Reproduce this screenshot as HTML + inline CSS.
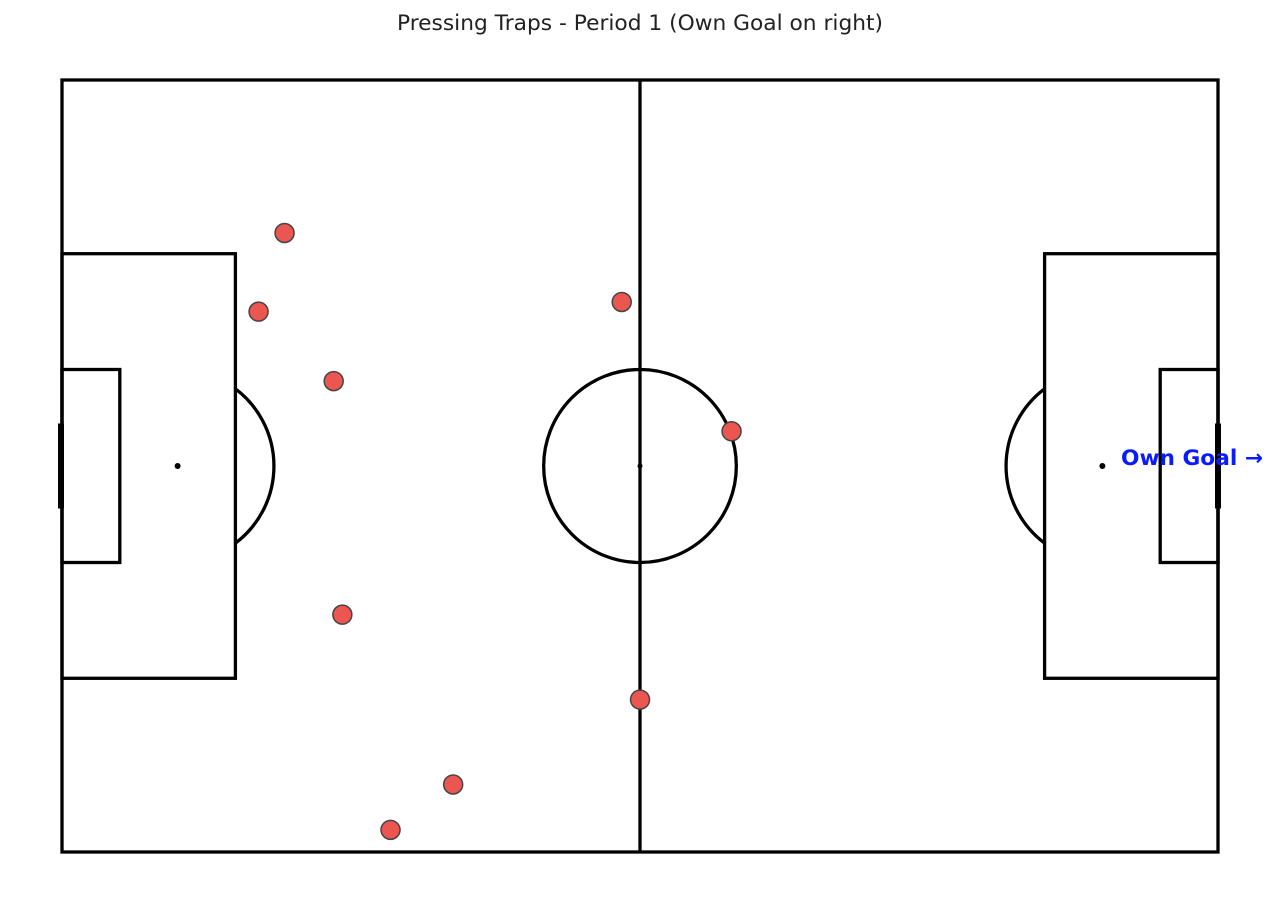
<!DOCTYPE html>
<html><head><meta charset="utf-8"><style>
html,body{margin:0;padding:0;background:#fff;}
svg{display:block;}
</style></head><body>
<svg id="chart" width="1284" height="902" xmlns="http://www.w3.org/2000/svg">
<text x="640" y="30" text-anchor="middle" font-family="DejaVu Sans, sans-serif" font-size="21.7" fill="#222" textLength="486" lengthAdjust="spacingAndGlyphs">Pressing Traps - Period 1 (Own Goal on right)</text>
<g id="pitch" fill="none" stroke="#000" stroke-width="3.3"></g>
<g id="dots"></g>
<text x="1121" y="465" font-family="DejaVu Sans, sans-serif" font-weight="bold" font-size="21.5" fill="#0a1cff" textLength="142" lengthAdjust="spacingAndGlyphs">Own Goal →</text>
</svg>
<script>
const trapX = [23.0, 20.3, 28.1, 58.0, 69.4, 29.0, 59.9, 40.5, 34.0];
const trapY = [15.75, 23.9, 31.1, 22.9, 36.3, 55.3, 64.1, 72.9, 77.6];

const X0 = 62, X1 = 1218, Y0 = 80, Y1 = 852;
const sx = v => X0 + v / 120 * (X1 - X0);
const sy = v => Y0 + v / 80 * (Y1 - Y0);
const NS = 'http://www.w3.org/2000/svg';
const pitch = document.getElementById('pitch');
function add(parent, tag, attrs, name) {
  const el = document.createElementNS(NS, tag);
  for (const k in attrs) el.setAttribute(k, attrs[k]);
  
  
  parent.appendChild(el);
  return el;
}
function rect(x1, y1, x2, y2, name) {
  add(pitch, 'rect', {x: sx(x1), y: sy(y1), width: sx(x2) - sx(x1), height: sy(y2) - sy(y1)}, name);
}
rect(0, 0, 120, 80, 'pitch-outline');
add(pitch, 'line', {x1: sx(60), y1: sy(0), x2: sx(60), y2: sy(80)}, 'halfway-line');
rect(0, 18, 18, 62, 'left-penalty-box');
rect(102, 18, 120, 62, 'right-penalty-box');
rect(0, 30, 6, 50, 'left-six-yard-box');
rect(114, 30, 120, 50, 'right-six-yard-box');
const r = sx(10) - sx(0), ry = sy(10) - sy(0);
add(pitch, 'ellipse', {cx: sx(60), cy: sy(40), rx: r, ry: ry}, 'center-circle');
const dx = 18 - 12, dy = Math.sqrt(100 - dx * dx);
add(pitch, 'path', {d: `M${sx(18)},${sy(40 - dy)} A${r},${ry} 0 0 1 ${sx(18)},${sy(40 + dy)}`}, 'left-penalty-arc');
add(pitch, 'path', {d: `M${sx(102)},${sy(40 - dy)} A${r},${ry} 0 0 0 ${sx(102)},${sy(40 + dy)}`}, 'right-penalty-arc');
add(pitch, 'circle', {cx: sx(60), cy: sy(40), r: 2.5, fill: '#000', stroke: 'none'}, 'center-spot');
add(pitch, 'circle', {cx: sx(12), cy: sy(40), r: 3, fill: '#000', stroke: 'none'}, 'left-penalty-spot');
add(pitch, 'circle', {cx: sx(108), cy: sy(40), r: 3, fill: '#000', stroke: 'none'}, 'right-penalty-spot');
add(pitch, 'line', {x1: sx(0) - 1, y1: sy(35.6), x2: sx(0) - 1, y2: sy(44.4), 'stroke-width': 6}, 'left-goal');
add(pitch, 'line', {x1: sx(120), y1: sy(35.6), x2: sx(120), y2: sy(44.4), 'stroke-width': 6}, 'right-goal');

const dots = document.getElementById('dots');
trapX.forEach((x, i) => {
  const c = document.createElementNS(NS, 'circle');
  c.setAttribute('cx', sx(x) + 1);
  c.setAttribute('cy', sy(trapY[i]) + 1);
  c.setAttribute('r', 9.5);
  c.setAttribute('fill', '#eb5650');
  c.setAttribute('stroke', '#444');
  c.setAttribute('stroke-width', 1.5);
  
  
  dots.appendChild(c);
});
</script>
</body></html>
